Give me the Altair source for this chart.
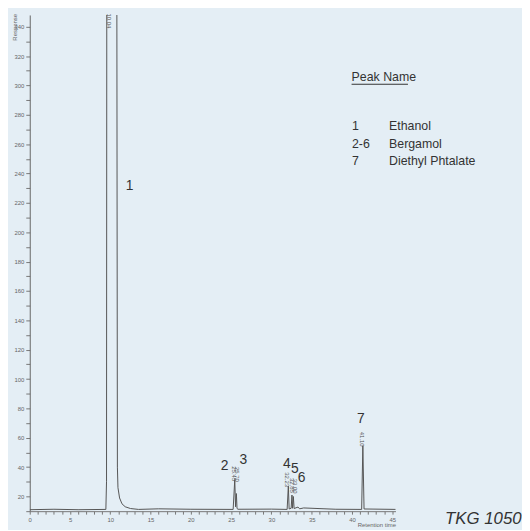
import altair as alt
import pandas as pd

# Chromatogram trace (retention time in min, response)
trace_t = [0.0, 3.0, 6.0, 9.45, 9.53, 9.57, 10.0, 10.8, 10.88, 10.95, 11.15, 11.45, 11.85, 12.5, 13.5,
           16.0, 20.0, 25.25, 25.45, 25.55, 25.65, 25.73, 25.85, 30.0, 31.95, 32.1, 32.2, 32.45, 32.55,
           32.62, 32.72, 32.82, 33.3, 33.5, 34.0, 38.0, 41.2, 41.35, 41.5, 45.5]
trace_v = [11.0, 11.3, 11.0, 11.2, 30.0, 420.0, 440.0, 420.0, 40.0, 26.0, 19.0, 15.0, 13.0, 11.8, 11.2,
           11.6, 11.3, 11.2, 31.5, 13.0, 22.0, 11.8, 11.3, 11.4, 11.2, 27.0, 11.5, 12.0, 21.0,
           12.0, 20.0, 11.8, 12.8, 11.6, 12.2, 11.3, 11.2, 54.5, 11.5, 11.2]

# Retention time labels printed on peaks
rt_text = ["10.04", "25.45", "25.70", "32.23", "32.85", "33.00", "41.10"]
rt_t = [9.85, 25.3, 25.75, 31.95, 32.55, 32.9, 41.3]
rt_v = [344.0, 35.5, 35.0, 31.5, 27.5, 27.0, 59.0]

# Peak numbers
pk_text = ["1", "2", "3", "4", "5", "6", "7"]
pk_t = [12.4, 24.2, 26.5, 31.9, 32.9, 33.75, 41.1]
pk_v = [231.5, 40.4, 44.5, 42.4, 38.4, 32.3, 72.8]

# Legend table
lg_num = ["1", "2-6", "7"]
lg_name = ["Ethanol", "Bergamol", "Diethyl Phtalate"]
lg_v = [272.0, 260.0, 248.5]

BG = "#e4eef5"
TXT = "#333333"

x_scale = alt.Scale(domain=[0, 45.4], nice=False, zero=False)
y_scale = alt.Scale(domain=[10, 348], nice=False, zero=False)

trace_df = pd.DataFrame({"t": trace_t, "v": trace_v})
rt_df = pd.DataFrame({"t": rt_t, "v": rt_v, "label": rt_text})
pk_df = pd.DataFrame({"t": pk_t, "v": pk_v, "label": pk_text})
lg_df = pd.DataFrame({"num": lg_num, "name": lg_name, "v": lg_v, "t1": [40.0] * 3, "t2": [44.6] * 3})

x_axis = alt.Axis(values=list(range(0, 46)), labelExpr="datum.value % 5 ? '' : datum.label",
                  labelOverlap=False,
                  title="Retention time", titleAnchor="end", titleFontSize=6, titleColor="#666",
                  titleFontWeight="normal", titlePadding=0,
                  grid=False, tickSize=3, labelFontSize=6, labelColor="#666", domainColor="#777",
                  tickColor="#777", labelPadding=2, labelFlush=False)
y_axis = alt.Axis(values=list(range(10, 350, 10)), labelExpr="datum.value % 20 ? '' : datum.label",
                  labelOverlap=False,
                  title="Response", titleFontSize=6, titleColor="#666",
                  titleFontWeight="normal", titleAngle=270, titleAlign="center", titleBaseline="middle",
                  titleX=-15, titleY=12,
                  grid=False, tickSize=4, labelFontSize=6, labelColor="#666", domainColor="#666",
                  tickColor="#777", labelPadding=2)


def X(field):
    return alt.X(field, scale=x_scale, axis=x_axis)


def Y(field):
    return alt.Y(field, scale=y_scale, axis=y_axis)


line = alt.Chart(trace_df).mark_line(color="#555555", strokeWidth=1, clip=True).encode(
    x=X("t:Q"), y=Y("v:Q"), order="t:Q",
)

rt = alt.Chart(rt_df).mark_text(angle=90, fontSize=6, color="#555", font="Liberation Sans").encode(
    x=X("t:Q"), y=Y("v:Q"), text="label:N")

pk = alt.Chart(pk_df).mark_text(fontSize=14, color=TXT, font="Liberation Sans").encode(
    x=X("t:Q"), y=Y("v:Q"), text="label:N")

lg_num_l = alt.Chart(lg_df).mark_text(fontSize=12.5, color=TXT, align="left", font="Liberation Sans").encode(
    x=X("t1:Q"), y=Y("v:Q"), text="num:N")
lg_name_l = alt.Chart(lg_df).mark_text(fontSize=12.5, color=TXT, align="left", font="Liberation Sans").encode(
    x=X("t2:Q"), y=Y("v:Q"), text="name:N")

head_df = pd.DataFrame({"t": [39.95], "t2": [46.95], "v": [306.0], "vu": [300.8], "label": ["Peak Name"]})
head = alt.Chart(head_df).mark_text(fontSize=12.5, color=TXT, align="left", font="Liberation Sans").encode(
    x=X("t:Q"), y=Y("v:Q"), text="label:N")
underline = alt.Chart(head_df).mark_rule(color=TXT, strokeWidth=1).encode(
    x=X("t:Q"), x2="t2:Q", y=Y("vu:Q"))

tkg_df = pd.DataFrame({"t": [56.3], "v": [4.3], "label": ["TKG 1050"]})
tkg = alt.Chart(tkg_df).mark_text(fontSize=17, fontStyle="italic", color=TXT, font="Liberation Sans").encode(
    x=X("t:Q"), y=Y("v:Q"), text="label:N")

chart = alt.layer(line, rt, pk, head, underline, lg_num_l, lg_name_l, tkg).properties(
    width=370, height=502,
    autosize=alt.AutoSizeParams(type="none"),
    padding={"left": 22, "top": 4, "right": 128, "bottom": 16},
    background=BG,
).configure(font="Liberation Sans").configure_view(stroke="transparent", strokeWidth=0).configure_axis(grid=False)

chart.save("out.html", embed_options={"renderer": "svg", "actions": False})
